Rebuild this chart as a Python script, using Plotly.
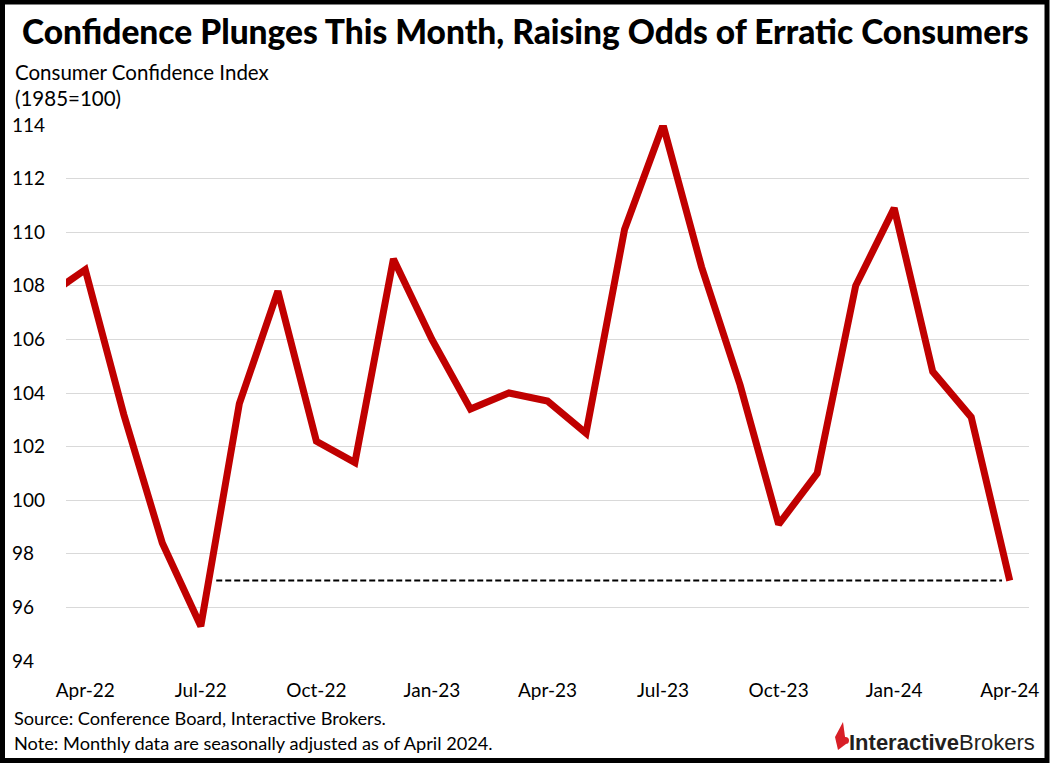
import plotly.graph_objects as go

# ---------------- data ----------------
months = ["Mar-22", "Apr-22", "May-22", "Jun-22", "Jul-22", "Aug-22", "Sep-22", "Oct-22",
          "Nov-22", "Dec-22", "Jan-23", "Feb-23", "Mar-23", "Apr-23", "May-23", "Jun-23",
          "Jul-23", "Aug-23", "Sep-23", "Oct-23", "Nov-23", "Dec-23", "Jan-24", "Feb-24",
          "Mar-24", "Apr-24"]
confidence = [107.6, 108.6, 103.2, 98.4, 95.3, 103.6, 107.8, 102.2,
              101.4, 109.0, 106.0, 103.4, 104.0, 103.7, 102.5, 110.1,
              114.0, 108.7, 104.3, 99.1, 101.0, 108.0, 110.9, 104.8,
              103.1, 97.0]
x_tick_labels = ["Apr-22", "Jul-22", "Oct-22", "Jan-23", "Apr-23", "Jul-23", "Oct-23", "Jan-24", "Apr-24"]
y_tick_values = [94, 96, 98, 100, 102, 104, 106, 108, 110, 112, 114]
y_tick_labels = ["94", "96", "98", "100", "102", "104", "106", "108", "110", "112", "114"]
ref_level = confidence[-1]          # current reading (97.0)
ref_start = 4.4                     # category index where dashed line begins (just after Jul-22)
ref_end = 24.8                      # category index where dashed line ends (just before Apr-24)

title = "Confidence Plunges This Month, Raising Odds of Erratic Consumers"
y_title_1 = "Consumer Confidence Index"
y_title_2 = "(1985=100)"
source_note = "Source: Conference Board, Interactive Brokers."
method_note = "Note: Monthly data are seasonally adjusted as of April 2024."

# ---------------- layout geometry ----------------
FIG_W, FIG_H = 1050, 763
L, R, T, B = 66, 1029, 125, 661
PW, PH = R - L, B - T


def px(x):
    return (x - L) / PW


def py(y):
    return (B - y) / PH


FONT = "Lato, Noto Sans, sans-serif"
TITLE_FONT = "Lato, Noto Sans, sans-serif"

fig = go.Figure()
fig.add_trace(go.Scatter(
    x=months, y=confidence, mode="lines",
    line=dict(color="#C00000", width=7),
    hoverinfo="x+y", showlegend=False,
))

# pad 2-digit labels with figure spaces so labels look left aligned
y_ticktext = [t if len(t) == 3 else t + "\u2007" for t in y_tick_labels]

shapes = [
    dict(type="line", xref="x", yref="y", x0=ref_start, x1=ref_end, y0=ref_level, y1=ref_level,
         line=dict(color="black", width=2, dash="6px,3px")),
    # outer frame
    dict(type="rect", xref="paper", yref="paper",
         x0=px(2.5), x1=px(1047), y0=py(2), y1=py(760.5),
         line=dict(color="black", width=5), fillcolor="rgba(0,0,0,0)", layer="above"),
    # logo icon (flame)
    dict(type="path", xref="paper", yref="paper",
         path=("M {a},{b} L {c},{d} L {e},{f} L {g},{h} Z").format(
             a=px(843), b=py(722), c=px(835), d=py(737), e=px(838), f=py(750), g=px(846), h=py(744)),
         fillcolor="#D81F26", line=dict(width=0)),
    dict(type="circle", xref="paper", yref="paper",
         x0=px(842), x1=px(849), y0=py(737), y1=py(744),
         fillcolor="#D81F26", line=dict(width=0)),
]

annotations = [
    dict(text=title, x=px(525), y=py(31), xref="paper", yref="paper",
         xanchor="center", yanchor="middle", showarrow=False,
         font=dict(family=TITLE_FONT, size=33.5, color="black", weight=900)),
    dict(text=y_title_1, x=px(13), y=py(72), xref="paper", yref="paper",
         xanchor="left", yanchor="middle", showarrow=False,
         font=dict(family=FONT, size=20.5, color="black")),
    dict(text=y_title_2, x=px(13), y=py(98), xref="paper", yref="paper",
         xanchor="left", yanchor="middle", showarrow=False,
         font=dict(family=FONT, size=20.5, color="black")),
    dict(text=source_note, x=px(12), y=py(718), xref="paper", yref="paper",
         xanchor="left", yanchor="middle", showarrow=False,
         font=dict(family=FONT, size=18.2, color="black")),
    dict(text=method_note, x=px(12), y=py(743), xref="paper", yref="paper",
         xanchor="left", yanchor="middle", showarrow=False,
         font=dict(family=FONT, size=18.2, color="black")),
    dict(text="<b>Interactive</b>Brokers", x=px(1037), y=py(742), xref="paper", yref="paper",
         xanchor="right", yanchor="middle", showarrow=False,
         font=dict(family="Liberation Sans, Arial, sans-serif", size=22, color="#231F20")),
]

fig.update_layout(
    width=FIG_W, height=FIG_H,
    margin=dict(l=L, r=FIG_W - R, t=T, b=FIG_H - B, pad=0),
    paper_bgcolor="white", plot_bgcolor="white",
    font=dict(family=FONT, color="black"),
    xaxis=dict(
        type="category", categoryorder="array", categoryarray=months,
        range=[0.5, len(months) - 0.5],
        tickmode="array", tickvals=x_tick_labels, ticktext=x_tick_labels,
        showgrid=False, zeroline=False, showline=False, ticks="",
        tickfont=dict(family=FONT, size=19, color="black"),
        ticklabelstandoff=16,
    ),
    yaxis=dict(
        range=[94, 114], tickmode="array", tickvals=y_tick_values, ticktext=y_ticktext,
        showgrid=True, gridcolor="#D9D9D9", gridwidth=1.3, zeroline=False, showline=False, ticks="",
        tickfont=dict(family=FONT, size=19, color="black"),
        ticklabelstandoff=20,
    ),
    shapes=shapes,
    annotations=annotations,
)

fig.write_html("out.html", config={"displayModeBar": False},
               post_script="document.body.style.margin='0';")
